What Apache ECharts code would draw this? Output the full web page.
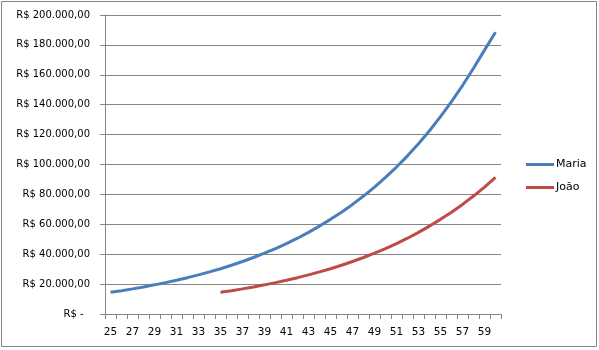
<!DOCTYPE html>
<html>
<head>
<meta charset="utf-8">
<script src="https://cdn.jsdelivr.net/npm/echarts@6/dist/echarts.min.js"></script>
<style>
html,body{margin:0;padding:0;background:#fff;}
#c{width:599px;height:350px;}
</style>
</head>
<body>
<div id="c"></div>
<script>
const ages = [25,26,27,28,29,30,31,32,33,34,35,36,37,38,39,40,41,42,43,44,45,46,47,48,49,50,51,52,53,54,55,56,57,58,59,60];
const maria = [14500,15600,16800,18100,19500,21000,22600,24300,26200,28200,30300,32600,35100,37800,40700,43800,47100,50700,54600,58800,63300,68100,73300,78900,84900,91400,98300,105800,113900,122600,132000,142000,152800,164400,176500,188500];
const joao = [null,null,null,null,null,null,null,null,null,null,14500,15600,16800,18100,19500,21000,22600,24300,26200,28200,30300,32600,35100,37800,40700,43800,47100,50700,54600,58800,63300,68100,73300,78900,84900,91400];
const seriesNames = ['Maria','João'];
const yMax = 200000;
const yStep = 20000;

function fmt(v){
  if (v === 0) return 'R$ -\u00a0\u00a0';
  const s = String(Math.round(v)).replace(/\B(?=(\d{3})+(?!\d))/g, '.');
  return 'R$ ' + s + ',00';
}

const chart = echarts.init(document.getElementById('c'), null, {renderer:'canvas'});
const font = 'DejaVu Sans';
chart.setOption({
  animation:false,
  backgroundColor:'#fff',
  graphic:[{type:'rect', shape:{x:1.5,y:1.5,width:595,height:345}, style:{fill:'none', stroke:'#868686', lineWidth:1}, silent:true}],
  grid:{left:105, right:98, top:15, bottom:36, containLabel:false},
  legend:{
    orient:'vertical', left:521, top:154,
    itemWidth:28, itemHeight:3, icon:'rect', itemGap:12,
    textStyle:{fontFamily:font, fontSize:11, color:'#000', padding:[0,0,0,-3]},
    data:seriesNames
  },
  xAxis:{
    type:'category', data:ages, boundaryGap:true,
    axisLine:{lineStyle:{color:'#868686', width:1}},
    axisTick:{show:true, interval:0, length:5, lineStyle:{color:'#868686'}},
    axisLabel:{interval:1, fontFamily:font, fontSize:10.5, color:'#000', margin:13},
    splitLine:{show:false}
  },
  yAxis:{
    type:'value', min:0, max:yMax, interval:yStep,
    axisLine:{show:true, lineStyle:{color:'#868686', width:1}},
    axisTick:{show:true, length:5, lineStyle:{color:'#868686'}},
    axisLabel:{fontFamily:font, fontSize:10, color:'#000', margin:15, formatter:fmt},
    splitLine:{show:true, lineStyle:{color:'#868686', width:1}}
  },
  series:[
    {name:seriesNames[0], type:'line', data:maria, showSymbol:false, symbol:'none', smooth:false,
     lineStyle:{color:'#4A7EBB', width:3}, itemStyle:{color:'#4A7EBB'}},
    {name:seriesNames[1], type:'line', data:joao, showSymbol:false, symbol:'none', smooth:false, connectNulls:false,
     lineStyle:{color:'#BE4B48', width:3}, itemStyle:{color:'#BE4B48'}}
  ]
});
</script>
</body>
</html>
